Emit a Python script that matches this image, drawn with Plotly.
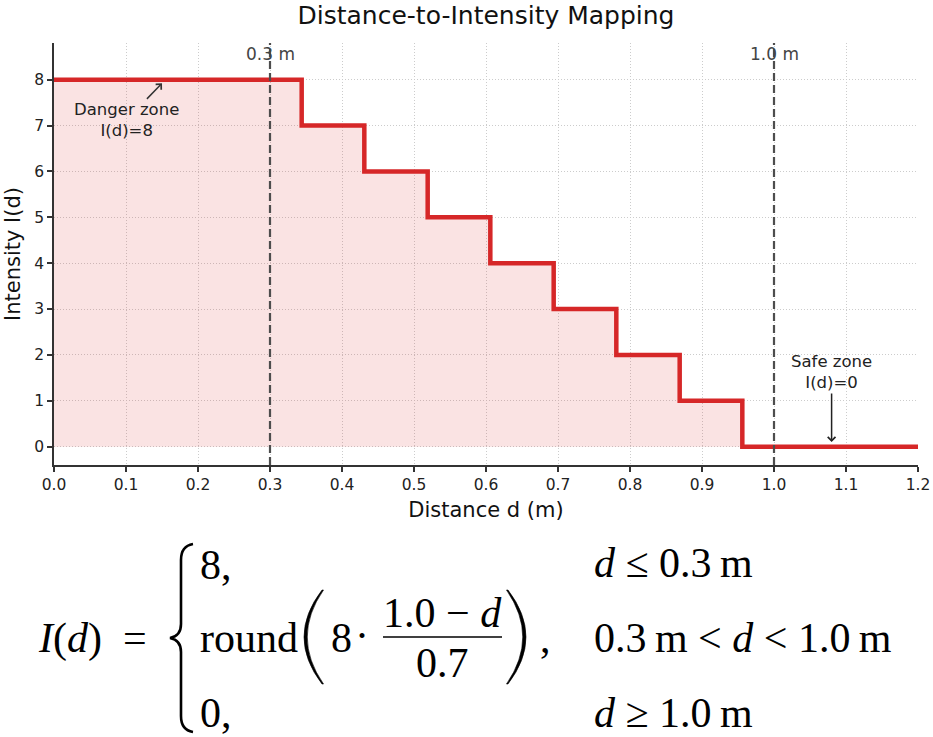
import plotly.graph_objects as go

# ---------------- data ----------------
d_breaks = [0.0, 0.344, 0.431, 0.519, 0.606, 0.694, 0.781, 0.869, 0.956, 1.2]
intensity = [8, 7, 6, 5, 4, 3, 2, 1, 0, 0]
thresholds = [0.3, 1.0]
threshold_labels = ["0.3 m", "1.0 m"]
x_ticks = [0.0, 0.1, 0.2, 0.3, 0.4, 0.5, 0.6, 0.7, 0.8, 0.9, 1.0, 1.1, 1.2]
x_tick_labels = ["0.0", "0.1", "0.2", "0.3", "0.4", "0.5", "0.6", "0.7", "0.8", "0.9", "1.0", "1.1", "1.2"]
y_ticks = [0, 1, 2, 3, 4, 5, 6, 7, 8]
y_tick_labels = ["0", "1", "2", "3", "4", "5", "6", "7", "8"]

RED = "#d62728"
SANS = "DejaVu Sans"
SERIF = "Liberation Serif"

# layout geometry (pixels)
W_FIG, H_FIG = 933, 737
PL, PR, PT, PB = 54, 918, 43, 465


def px(x):
    return (x - PL) / (PR - PL)


def py(y):
    return (PB - y) / (PB - PT)


fig = go.Figure()
fig.add_trace(go.Scatter(
    x=d_breaks, y=intensity, mode="lines", line_shape="hv",
    line=dict(color=RED, width=4.5), fill="tozeroy",
    fillcolor="rgba(214,39,40,0.13)", hoverinfo="skip",
))

shapes = []
annotations = []

# threshold lines + labels
for t, lab in zip(thresholds, threshold_labels):
    shapes.append(dict(type="line", xref="x", yref="paper", x0=t, x1=t, y0=0, y1=1,
                       line=dict(color="#4d4d4d", width=2.2, dash="8px,4px"), layer="above"))
    annotations.append(dict(x=t, y=8.57, xref="x", yref="y", text=lab, showarrow=False,
                            font=dict(family=SANS, size=17, color="#444444"),
                            xanchor="center", yanchor="middle"))

# zone annotations
annotations.append(dict(x=0.15, y=7.92, xref="x", yref="y", text="Danger zone<br>I(d)=8",
                        showarrow=True, arrowhead=4, arrowsize=1, arrowwidth=1.5,
                        arrowcolor="#333333", ax=-36, ay=37,
                        font=dict(family=SANS, size=16.5, color="#222222"), align="center"))
annotations.append(dict(x=1.08, y=0.1, xref="x", yref="y", text="Safe zone<br>I(d)=0",
                        showarrow=True, arrowhead=4, arrowsize=1, arrowwidth=1.5,
                        arrowcolor="#222222", ax=0, ay=-70,
                        font=dict(family=SANS, size=16.5, color="#222222"), align="center"))

# ---------------- formula ----------------
FS = 42


def ftext(text, x, y, anchor="left", size=FS):
    annotations.append(dict(x=px(x), y=py(y), xref="paper", yref="paper", text=text,
                            showarrow=False, xanchor=anchor, yanchor="middle",
                            font=dict(family=SERIF, size=size, color="black")))


def path(cmds):
    out = []
    for c in cmds:
        if isinstance(c, str):
            out.append(c)
        else:
            out.append(f"{px(c[0]):.5f},{py(c[1]):.5f}")
    return " ".join(out)


ftext("<i>I</i>(<i>d</i>)", 36, 638)
ftext("=", 121, 638)

# brace
shapes.append(dict(type="path", xref="paper", yref="paper", layer="above",
                   path=path(["M", (193, 544), "Q", (181, 546), (181, 560), "L", (181, 624),
                              "Q", (181, 636), (170, 638), "Q", (181, 640), (181, 652),
                              "L", (181, 716), "Q", (181, 730), (193, 732)]),
                   line=dict(color="black", width=2.6)))

ftext("8,", 198, 565)
ftext("round", 198, 638)
ftext("0,", 198, 713)

# big parentheses
shapes.append(dict(type="path", xref="paper", yref="paper", layer="above",
                   path=path(["M", (322, 590), "Q", (286, 637), (322, 684), "L", (323.5, 684),
                              "Q", (291, 637), (323.5, 590), "Z"]),
                   fillcolor="black", line=dict(color="black", width=0.6)))
shapes.append(dict(type="path", xref="paper", yref="paper", layer="above",
                   path=path(["M", (508, 590), "Q", (544, 637), (508, 684), "L", (506.5, 684),
                              "Q", (539, 637), (506.5, 590), "Z"]),
                   fillcolor="black", line=dict(color="black", width=0.6)))

ftext("8", 329, 638)
ftext("·", 362, 636, anchor="center")
ftext("1.0 \u2212 <i>d</i>", 442, 613, anchor="center")
shapes.append(dict(type="line", xref="paper", yref="paper", layer="above",
                   x0=px(383), x1=px(502), y0=py(637), y1=py(637),
                   line=dict(color="black", width=1.6)))
ftext("0.7", 442, 663, anchor="center")
ftext(",", 538, 638)

ftext("<i>d</i> \u2264 0.3\u2009m", 592, 563)
ftext("0.3\u2009m &lt; <i>d</i> &lt; 1.0\u2009m", 592, 638)
ftext("<i>d</i> \u2265 1.0\u2009m", 592, 713)

fig.update_layout(
    width=W_FIG, height=H_FIG,
    margin=dict(l=PL, r=W_FIG - PR, t=PT, b=H_FIG - PB, pad=0),
    plot_bgcolor="white", paper_bgcolor="white", showlegend=False,
    title=dict(text="Distance-to-Intensity Mapping", x=0.5, xref="paper",
               y=1 - 15 / H_FIG, yref="container", yanchor="middle", xanchor="center",
               font=dict(family=SANS, size=25, color="#111111")),
    shapes=shapes, annotations=annotations,
    xaxis=dict(range=[0, 1.2], tickvals=x_ticks, ticktext=x_tick_labels,
               showline=True, linecolor="#333333", linewidth=1.5,
               ticks="outside", ticklen=5, tickwidth=1.5, tickcolor="#333333",
               tickfont=dict(family=SANS, size=15.5, color="#222222"),
               showgrid=True, gridcolor="#cccccc", gridwidth=1, griddash="1px,2px",
               zeroline=False, automargin=False,
               title=dict(text="Distance d (m)", standoff=9,
                          font=dict(family=SANS, size=21, color="#111111"))),
    yaxis=dict(range=[-0.4, 8.8], tickvals=y_ticks, ticktext=y_tick_labels,
               showline=True, linecolor="#333333", linewidth=1.5,
               ticks="outside", ticklen=5, tickwidth=1.5, tickcolor="#333333",
               tickfont=dict(family=SANS, size=15.5, color="#222222"),
               showgrid=True, gridcolor="#cccccc", gridwidth=1, griddash="1px,2px",
               zeroline=False, automargin=False,
               title=dict(text="Intensity I(d)", standoff=8,
                          font=dict(family=SANS, size=21, color="#111111"))),
)

fig.write_html("out.html")
